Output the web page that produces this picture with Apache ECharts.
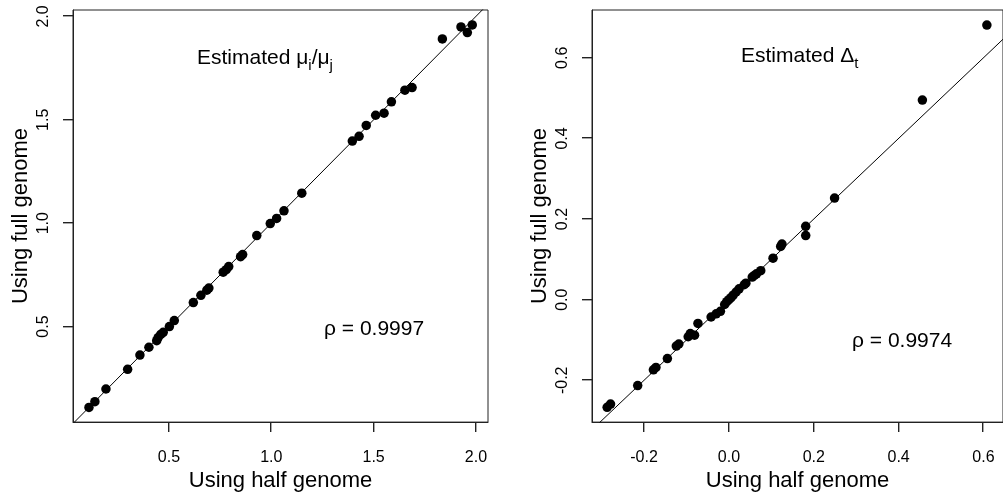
<!DOCTYPE html>
<html><head><meta charset="utf-8">
<script src="https://cdn.jsdelivr.net/npm/echarts@6/dist/echarts.min.js"></script>
<style>html,body{margin:0;padding:0;background:#fff}#c{width:1003px;height:497px}</style>
</head><body><div id="c"></div>
<script>
// Left panel: estimated mu_i / mu_j
const leftX = [0.109,0.138,0.192,0.298,0.358,0.402,0.440,0.447,0.460,0.472,0.502,0.526,0.619,0.656,0.685,0.695,0.765,0.780,0.792,0.850,0.860,0.929,0.995,1.026,1.062,1.149,1.396,1.429,1.464,1.510,1.551,1.587,1.653,1.688,1.836,1.927,1.958,1.982];
const leftY = [0.109,0.137,0.198,0.293,0.362,0.400,0.432,0.447,0.462,0.472,0.500,0.529,0.616,0.651,0.676,0.686,0.763,0.775,0.790,0.838,0.848,0.940,0.998,1.023,1.060,1.145,1.397,1.420,1.473,1.522,1.532,1.587,1.643,1.656,1.891,1.949,1.922,1.959];
// Right panel: estimated Delta_t
const rightX = [-0.287,-0.279,-0.215,-0.178,-0.172,-0.145,-0.124,-0.118,-0.096,-0.091,-0.081,-0.073,-0.042,-0.030,-0.020,-0.010,-0.005,0.000,0.005,0.010,0.017,0.024,0.036,0.040,0.055,0.060,0.065,0.075,0.104,0.122,0.125,0.181,0.181,0.249,0.456,0.608];
const rightY = [-0.267,-0.259,-0.213,-0.174,-0.168,-0.146,-0.115,-0.110,-0.092,-0.084,-0.088,-0.059,-0.043,-0.035,-0.029,-0.012,-0.005,0.000,0.005,0.011,0.019,0.027,0.037,0.041,0.056,0.060,0.064,0.072,0.103,0.132,0.138,0.182,0.159,0.252,0.495,0.681];
const leftTicks = [0.5, 1.0, 1.5, 2.0];
const rightTicks = [-0.2, 0.0, 0.2, 0.4, 0.6];
const leftRange = {xmin: 0.031, xmax: 2.059, ymin: 0.038, ymax: 2.031};
const rightRange = {xmin: -0.3227, xmax: 0.646, ymin: -0.3037, ymax: 0.7185};

const FONT = 'Liberation Sans, Arial, sans-serif';
const TICK_LEN = 10;
const zip = (a, b) => a.map((v, i) => [v, b[i]]);
const fmt = v => v.toFixed(1);

function xAx(idx, r, ticks) {
  return {
    type: 'value', gridIndex: idx, min: r.xmin, max: r.xmax,
    name: 'Using half genome', nameLocation: 'middle', nameGap: 46,
    nameTextStyle: {fontSize: 22, fontFamily: FONT, color: '#000'},
    axisLine: {show: true, onZero: false, lineStyle: {color: '#222', width: 1}}, splitLine: {show: false},
    axisTick: {show: false},
    axisLabel: {customValues: ticks, formatter: fmt, margin: 27, fontSize: 16, fontFamily: FONT, color: '#000'}
  };
}
function yAx(idx, r, ticks) {
  return {
    type: 'value', gridIndex: idx, min: r.ymin, max: r.ymax,
    name: 'Using full genome', nameLocation: 'middle', nameGap: 41,
    nameTextStyle: {fontSize: 22, fontFamily: FONT, color: '#000'},
    axisLine: {show: true, onZero: false, lineStyle: {color: '#222', width: 1}}, splitLine: {show: false},
    axisTick: {show: false},
    axisLabel: {customValues: ticks, formatter: fmt, rotate: 90, margin: 21, fontSize: 16, fontFamily: FONT, color: '#000'}
  };
}
function pts(idx, x, y) {
  return {type: 'scatter', xAxisIndex: idx, yAxisIndex: idx, data: zip(x, y), symbol: 'circle', symbolSize: 9.5,
    itemStyle: {color: '#000', opacity: 1}, z: 3};
}
function diag(idx, lo, hi) {
  return {type: 'line', xAxisIndex: idx, yAxisIndex: idx, data: [[lo, lo], [hi, hi]], symbol: 'none', clip: true,
    lineStyle: {color: '#000', width: 1}, z: 2};
}
// outward tick marks along the bottom axis, placed through the axis scale
function xTickSeries(idx, r, ticks) {
  return {
    type: 'custom', xAxisIndex: idx, yAxisIndex: idx, clip: false,
    data: ticks.map(v => [v, r.ymin]),
    renderItem: function (params, api) {
      const p = api.coord([api.value(0), api.value(1)]);
      return {type: 'rect', shape: {x: Math.round(p[0]) - 1, y: p[1], width: 1.4, height: TICK_LEN},
        style: {fill: '#222'}};
    }
  };
}
// outward tick marks along the left axis
function yTickSeries(idx, r, ticks) {
  return {
    type: 'custom', xAxisIndex: idx, yAxisIndex: idx, clip: false,
    data: ticks.map(v => [r.xmin, v]),
    renderItem: function (params, api) {
      const p = api.coord([api.value(0), api.value(1)]);
      return {type: 'rect', shape: {x: p[0] - TICK_LEN, y: Math.round(p[1]) - 1, width: TICK_LEN, height: 1.4},
        style: {fill: '#222'}};
    }
  };
}

const chart = echarts.init(document.getElementById('c'));
chart.setOption({
  animation: false,
  grid: [
    {left: 73, top: 10, width: 415, height: 414, show: true, borderColor: '#222', borderWidth: 1},
    {left: 592, top: 10, width: 415, height: 414, show: true, borderColor: '#222', borderWidth: 1}
  ],
  xAxis: [xAx(0, leftRange, leftTicks), xAx(1, rightRange, rightTicks)],
  yAxis: [yAx(0, leftRange, leftTicks), yAx(1, rightRange, rightTicks)],
  series: [
    diag(0, -1, 3), pts(0, leftX, leftY),
    diag(1, -1, 1), pts(1, rightX, rightY),
    xTickSeries(0, leftRange, leftTicks), yTickSeries(0, leftRange, leftTicks),
    xTickSeries(1, rightRange, rightTicks), yTickSeries(1, rightRange, rightTicks)
  ],
  graphic: [
    {type: 'text', x: 197, y: 58, style: {
      text: '{a|Estimated }{m|μ}{s|i}{m|/}{m|μ}{s|j}', align: 'left', verticalAlign: 'middle',
      rich: {
        a: {fontSize: 21, fontFamily: FONT, fill: '#000', lineHeight: 30, verticalAlign: 'middle'},
        m: {fontSize: 21, fontFamily: FONT, fill: '#000', lineHeight: 30, verticalAlign: 'middle'},
        s: {fontSize: 15, fontFamily: FONT, fill: '#000', lineHeight: 15, verticalAlign: 'bottom'}
      }}},
    {type: 'text', x: 324, y: 329, style: {text: 'ρ = 0.9997', font: '21px ' + FONT, fill: '#000', align: 'left', verticalAlign: 'middle'}},
    {type: 'text', x: 741, y: 56, style: {
      text: '{a|Estimated Δ}{s|t}', align: 'left', verticalAlign: 'middle',
      rich: {
        a: {fontSize: 21, fontFamily: FONT, fill: '#000', lineHeight: 30, verticalAlign: 'middle'},
        s: {fontSize: 15, fontFamily: FONT, fill: '#000', lineHeight: 15, verticalAlign: 'bottom'}
      }}},
    {type: 'text', x: 852, y: 341, style: {text: 'ρ = 0.9974', font: '21px ' + FONT, fill: '#000', align: 'left', verticalAlign: 'middle'}}
  ]
});
</script></body></html>
